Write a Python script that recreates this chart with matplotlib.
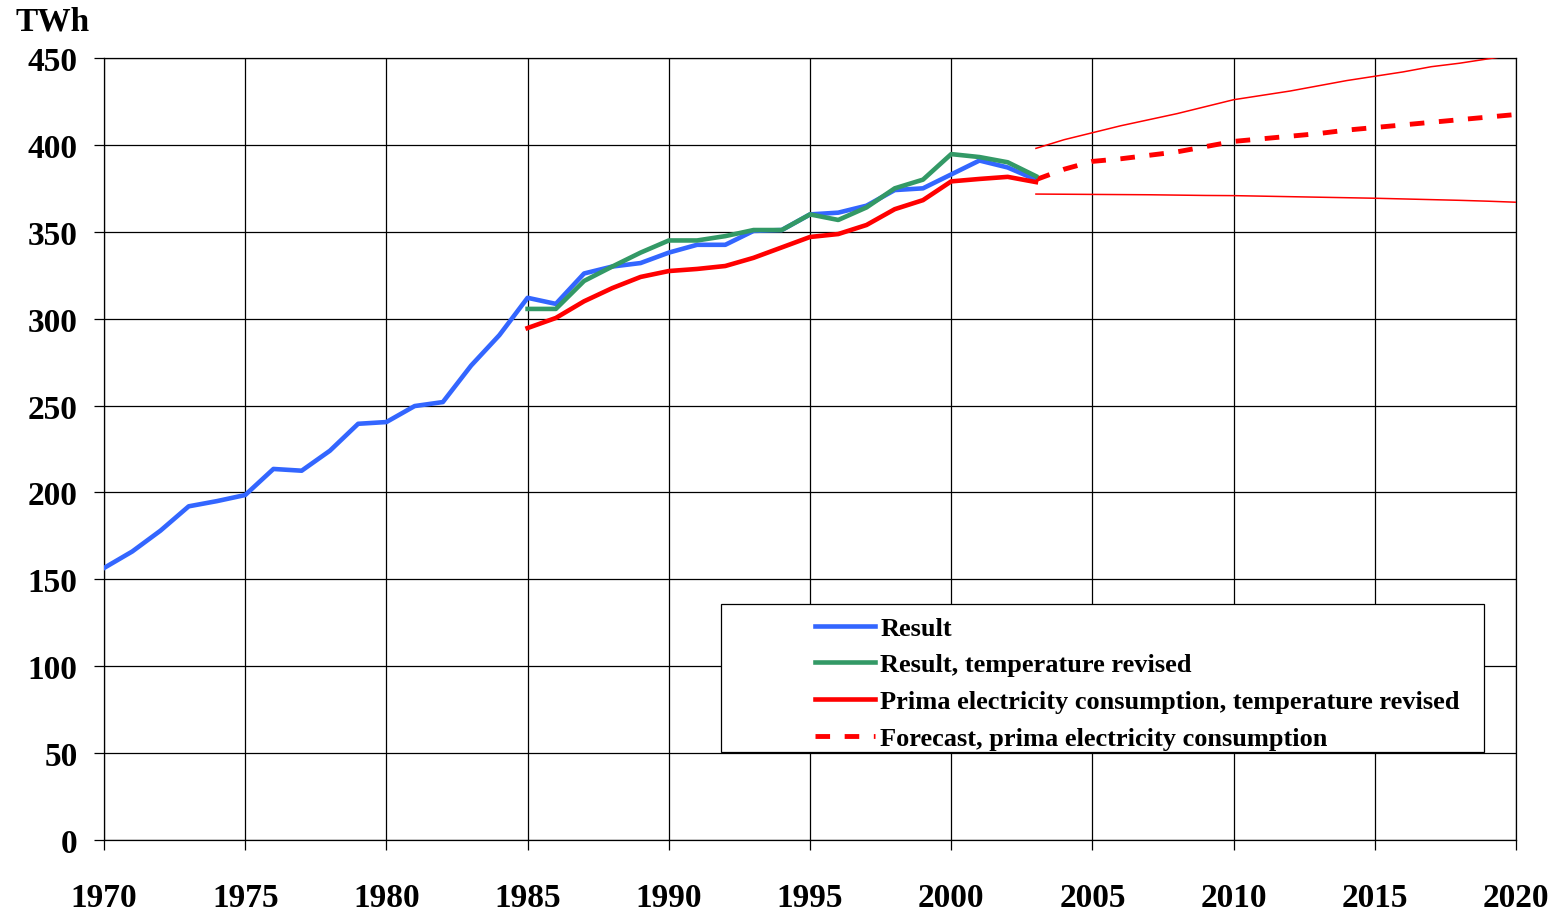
import matplotlib
matplotlib.use("Agg")
from matplotlib import pyplot as plt
from matplotlib.patches import Rectangle

# Result, 1970-2003
years_result = list(range(1970, 2004))
result = [156.5, 166, 178, 192, 195, 198.5, 213.5, 212.5, 224, 239.5,
          240.5, 249.7, 252, 273, 290.5, 312, 308.5, 326, 330, 332,
          338, 342.5, 342.5, 350.5, 351, 360, 361, 365, 374, 375,
          383, 391, 387, 380]

# Temperature revised series, 1985-2003
years_rev = list(range(1985, 2004))
result_rev = [305.6, 305.6, 321.7, 330, 338, 345, 345, 347.5, 351, 351,
              360, 356.8, 364, 375, 380, 394.7, 393, 390, 382]
prima_rev = [294.6, 300.4, 310, 317.6, 324, 327.4, 328.6, 330.3, 335, 341,
             347, 348.7, 353.9, 363, 368.2, 379, 380.4, 381.6, 378.6]

# Forecast, 2003-2020
years_fc = list(range(2003, 2021))
forecast = [380, 386, 390.5, 392, 394, 396, 399, 402, 403.5, 405,
            406.5, 408.5, 410, 411.5, 413, 414.5, 416, 417.5]
fc_high = [398, 403, 407, 411, 414.5, 418, 422, 426, 428.5, 431,
           434, 437, 439.5, 442, 445, 447, 449.5, 452]
fc_low = [371.7, 371.6, 371.5, 371.4, 371.3, 371.1, 370.9, 370.8, 370.5, 370.2,
          369.9, 369.6, 369.3, 368.9, 368.5, 368.1, 367.6, 367]

plt.rcParams['font.family'] = ['Liberation Serif', 'DejaVu Serif']
plt.rcParams['font.weight'] = 'bold'

fig = plt.figure(figsize=(15.66, 9.12), dpi=100)
ax = fig.add_axes([0.0664, 0.0779, 0.9017, 0.8574])

ax.plot(years_result, result, color='#3366FF', lw=3.3, label='Result', zorder=3)
ax.plot(years_rev, result_rev, color='#339966', lw=3.3, label='Result, temperature revised', zorder=4)
ax.plot(years_rev, prima_rev, color='#FF0000', lw=3.3,
        label='Prima electricity consumption, temperature revised', zorder=3)
ax.plot(years_fc, forecast, color='#FF0000', lw=3.5, dashes=(3.0, 3.0),
        label='Forecast, prima electricity consumption', zorder=3)
ax.plot(years_fc, fc_high, color='#FF0000', lw=1.1, zorder=3)
ax.plot(years_fc, fc_low, color='#FF0000', lw=1.1, zorder=3)

ax.set_xlim(1970, 2020)
ax.set_ylim(0, 450)
ax.set_xticks(range(1970, 2021, 5))
ax.set_yticks(range(0, 451, 50))
ax.grid(True, color='black', lw=0.9)
for s in ax.spines.values():
    s.set_linewidth(0.9)
ax.tick_params(axis='both', labelsize=24, length=7, width=0.9, direction='out')
ax.tick_params(axis='x', pad=23)
ax.tick_params(axis='y', pad=12)

fig.text(0.0096, 0.976, 'TWh', fontsize=24, fontweight='bold', ha='left', va='center')

# legend box drawn separately so the entries can sit right of the box edge
ax.add_patch(Rectangle((0.437, 0.1125), 0.540, 0.1893, transform=ax.transAxes,
                       facecolor='white', edgecolor='black', lw=0.9, zorder=5))
leg = ax.legend(loc='upper left', bbox_to_anchor=(0.5035, 0.286),
                fontsize=19, handlelength=2.27, handletextpad=0.2, labelspacing=0.5,
                borderpad=0, frameon=False, borderaxespad=0)
leg.set_zorder(6)

plt.savefig("out.png", dpi=100)
plt.close()
